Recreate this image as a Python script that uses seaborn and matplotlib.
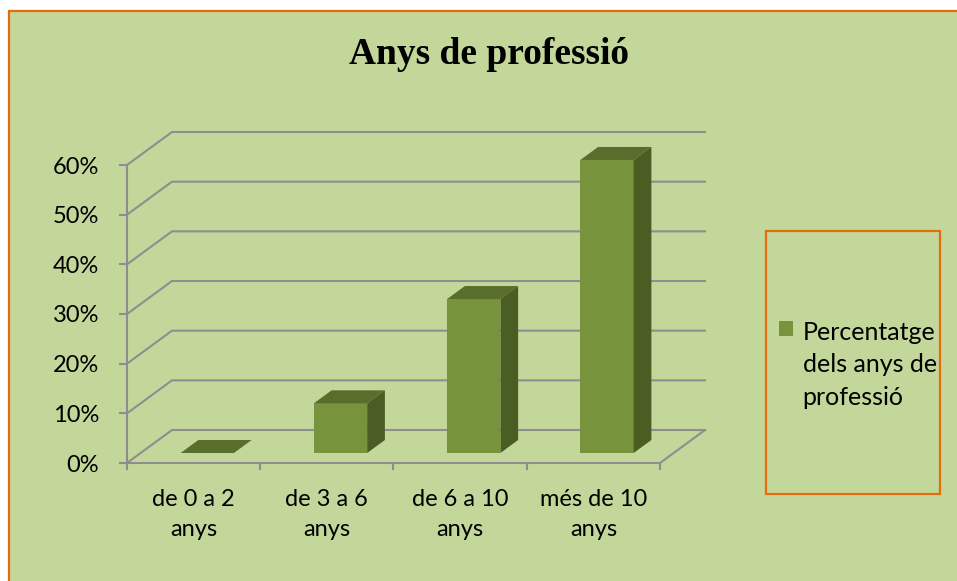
import numpy as np
import matplotlib
matplotlib.use("Agg")
import matplotlib.pyplot as plt
import seaborn as sns
from matplotlib.patches import Rectangle, Polygon
from matplotlib.transforms import Affine2D, IdentityTransform
from matplotlib.ticker import PercentFormatter, FixedLocator

# dades
categories = ["de 0 a 2\nanys", "de 3 a 6\nanys", "de 6 a 10\nanys", "més de 10\nanys"]
values = [0.0, 0.10, 0.31, 0.59]
yticks = [0.0, 0.1, 0.2, 0.3, 0.4, 0.5, 0.6]
series_name = "Percentatge\ndels anys de\nprofessió"
title = "Anys de professió"

# colors
bg = "#C4D79B"
border = "#E46C0A"
grid_c = "#8E8E8E"
front_c = "#77933C"
top_c = "#5A6E2C"
side_c = "#4A5E24"

W, H = 957, 581
DX, DY = 45, 33          # profunditat de l'efecte 3D (px)
F0, F1 = 10 / 33, 23 / 33  # posicio de les barres dins la profunditat

plt.rcParams["font.family"] = ["Lato", "DejaVu Sans"]

fig = plt.figure(figsize=(W / 100, H / 100), dpi=100, facecolor="white")

# fons del grafic amb vora taronja
fig.patches.append(Rectangle((9 / W, -0.1), 1.2, 1 - 11 / H + 0.1, transform=fig.transFigure,
                             facecolor=bg, edgecolor=border, linewidth=1.6, zorder=-5))

ax = fig.add_axes([127 / W, (H - 463) / H, (660 - 127) / W, (463 - 165) / H])
ax.set_facecolor("none")
ax.set_zorder(2)

sns.barplot(x=list(range(len(values))), y=values, width=0.4, color=front_c,
            saturation=1, label=series_name, ax=ax, zorder=3)

ax.set_xlim(-0.5, len(values) - 0.5)
ax.set_ylim(0, 0.6)
ax.set_autoscale_on(False)


def to_px(x, y, f):
    p = ax.transData.transform((x, y))
    return (p[0] + f * DX, p[1] + f * DY)


# pla del fons i linies de la graella
for v in yticks:
    a, b = to_px(-0.5, v, 0), to_px(-0.5, v, 1)
    c = to_px(len(values) - 0.5, v, 1)
    ax.plot([a[0], b[0], c[0]], [a[1], b[1], c[1]], color=grid_c, lw=1.5,
            transform=IdentityTransform(), clip_on=False, zorder=1)
a, b = to_px(len(values) - 0.5, 0, 0), to_px(len(values) - 0.5, 0, 1)
ax.plot([a[0], b[0]], [a[1], b[1]], color=grid_c, lw=1.5,
        transform=IdentityTransform(), clip_on=False, zorder=1)

# barres en 3D
shift = Affine2D().translate(F0 * DX, F0 * DY)
for p in list(ax.patches):
    p.set_transform(ax.transData + shift)
    p.set_edgecolor("none")
    p.set_clip_on(False)
    x0, w, h = p.get_x(), p.get_width(), p.get_height()
    top = [to_px(x0, h, F0), to_px(x0 + w, h, F0), to_px(x0 + w, h, F1), to_px(x0, h, F1)]
    side = [to_px(x0 + w, 0, F0), to_px(x0 + w, h, F0), to_px(x0 + w, h, F1), to_px(x0 + w, 0, F1)]
    ax.add_patch(Polygon(top, closed=True, facecolor=top_c, edgecolor="none",
                         transform=IdentityTransform(), clip_on=False, zorder=3))
    if h > 0:
        ax.add_patch(Polygon(side, closed=True, facecolor=side_c, edgecolor="none",
                             transform=IdentityTransform(), clip_on=False, zorder=3))

# eixos
for s in ["top", "right"]:
    ax.spines[s].set_visible(False)
for s in ["left", "bottom"]:
    ax.spines[s].set_color(grid_c)
    ax.spines[s].set_linewidth(1.5)
    ax.spines[s].set_zorder(1)

ax.yaxis.set_major_locator(FixedLocator(yticks))
ax.yaxis.set_major_formatter(PercentFormatter(1.0, decimals=0))
ax.tick_params(axis="y", length=6, width=1.5, color=grid_c, pad=14, labelsize=17,
               labelcolor="black")
ax.set_xticks(range(len(values)))
ax.set_xticklabels(categories, linespacing=1.5)
ax.set_xticks(np.arange(-0.5, len(values), 1.0), minor=True)
ax.tick_params(axis="x", which="major", length=0, pad=19, labelsize=17, labelcolor="black")
ax.tick_params(axis="x", which="minor", length=5, width=1.5, color=grid_c)
ax.set_xlabel("")
ax.set_ylabel("")

# titol
fig.text(489 / W, 1 - 55 / H, title, ha="center", va="center", fontsize=27,
         fontweight="bold", family=["Liberation Serif", "DejaVu Serif"])

# llegenda
fig.patches.append(Rectangle((766 / W, 1 - 494 / H), (940 - 766) / W, (494 - 231) / H,
                             transform=fig.transFigure, facecolor="none", edgecolor=border,
                             linewidth=1.6, zorder=2))
leg = ax.legend(loc="upper left", bbox_to_anchor=(779 / W, 1 - 321 / H),
                bbox_transform=fig.transFigure, frameon=False, fontsize=18,
                handlelength=0.55, handleheight=0.55, handletextpad=0.4, borderpad=0,
                borderaxespad=0)
for t in leg.get_texts():
    t.set_linespacing(1.5)
# el quadre de color alineat amb la primera linia
for col in leg._legend_handle_box.get_children():
    for row in col.get_children():
        row.align = "top"

fig.savefig("out.png", dpi=100, facecolor="white")
